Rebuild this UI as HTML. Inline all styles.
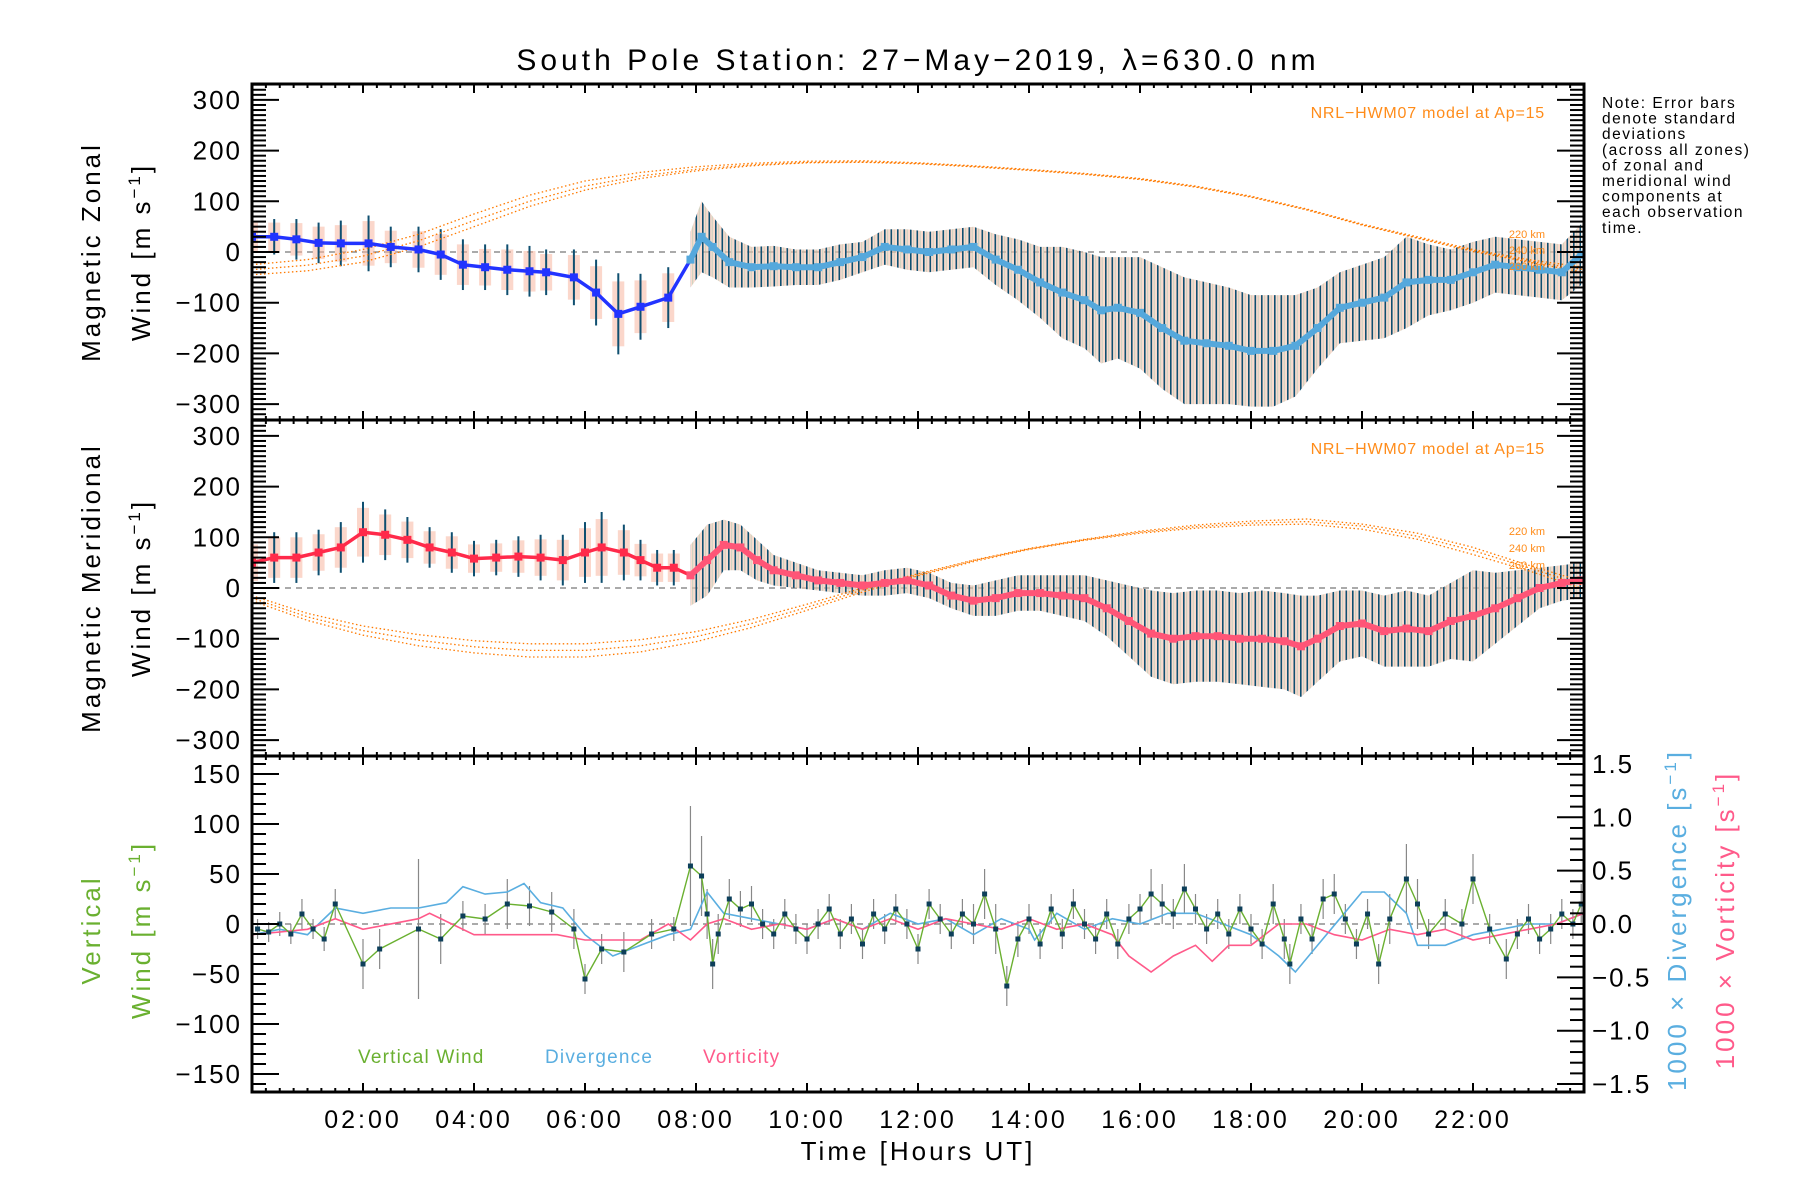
<!DOCTYPE html>
<html><head><meta charset="utf-8"><title>South Pole Station winds</title>
<style>
html,body{margin:0;padding:0;background:#fff;}
svg{display:block;font-family:"Liberation Sans",sans-serif;}
</style></head>
<body>
<svg id="chart" width="1800" height="1200" viewBox="0 0 1800 1200" xmlns="http://www.w3.org/2000/svg">
<defs>
<pattern id="bars" width="6.5" height="10" patternUnits="userSpaceOnUse">
<rect width="6.5" height="10" fill="#f7c3ad" fill-opacity="0.6"/>
<rect x="0" width="1.6" height="10" fill="#0f4f70"/>
<rect x="3.2" width="1" height="10" fill="#8fc8b0" fill-opacity="0.5"/>
</pattern>
<clipPath id="c1"><rect x="252" y="84" width="1332" height="336"/></clipPath>
<clipPath id="c2"><rect x="252" y="420" width="1332" height="336"/></clipPath>
<clipPath id="c3"><rect x="252" y="756" width="1332" height="336"/></clipPath>
</defs>
<text x="918" y="70" font-size="30" letter-spacing="4" text-anchor="middle">South Pole Station: 27−May−2019, λ=630.0 nm</text>
<g id="layer"></g>
<text font-size="15.5" letter-spacing="1.5" x="1602" y="108">
<tspan x="1602" dy="0">Note: Error bars</tspan><tspan x="1602" dy="15.6">denote standard</tspan><tspan x="1602" dy="15.6">deviations</tspan><tspan x="1602" dy="15.6">(across all zones)</tspan><tspan x="1602" dy="15.6">of zonal and</tspan><tspan x="1602" dy="15.6">meridional wind</tspan><tspan x="1602" dy="15.6">components at</tspan><tspan x="1602" dy="15.6">each observation</tspan><tspan x="1602" dy="15.6">time.</tspan></text>
<text x="1545" y="118" font-size="16" letter-spacing="0.8" fill="#ff8c1a" text-anchor="end">NRL−HWM07 model at Ap=15</text>
<text x="1545" y="454" font-size="16" letter-spacing="0.8" fill="#ff8c1a" text-anchor="end">NRL−HWM07 model at Ap=15</text>
<g font-size="11" fill="#ff8c1a" text-anchor="end"><text x="1545" y="238">220 km</text><text x="1545" y="254">240 km</text><text x="1545" y="270">260 km</text></g>
<g font-size="11" fill="#ff8c1a" text-anchor="end"><text x="1545" y="535">220 km</text><text x="1545" y="552">240 km</text><text x="1545" y="569">260 km</text></g>
<text transform="translate(100,252) rotate(-90)" font-size="26" text-anchor="middle" letter-spacing="3">Magnetic Zonal</text>
<text transform="translate(150,252) rotate(-90)" font-size="26" text-anchor="middle" letter-spacing="3">Wind [m s<tspan font-size="17" dy="-10">−1</tspan><tspan dy="10">]</tspan></text>
<text transform="translate(100,588) rotate(-90)" font-size="26" text-anchor="middle" letter-spacing="3">Magnetic Meridional</text>
<text transform="translate(150,588) rotate(-90)" font-size="26" text-anchor="middle" letter-spacing="3">Wind [m s<tspan font-size="17" dy="-10">−1</tspan><tspan dy="10">]</tspan></text>
<text transform="translate(100,930) rotate(-90)" font-size="26" text-anchor="middle" fill="#6ab030" letter-spacing="3">Vertical</text>
<text transform="translate(150,930) rotate(-90)" font-size="26" text-anchor="middle" fill="#6ab030" letter-spacing="3">Wind [m s<tspan font-size="17" dy="-10">−1</tspan><tspan dy="10">]</tspan></text>
<text transform="translate(1686,920) rotate(-90)" font-size="26" text-anchor="middle" fill="#5aaee0" letter-spacing="3">1000 × Divergence [s<tspan font-size="17" dy="-10">−1</tspan><tspan dy="10">]</tspan></text>
<text transform="translate(1734,920) rotate(-90)" font-size="26" text-anchor="middle" fill="#ff5a8a" letter-spacing="3">1000 × Vorticity [s<tspan font-size="17" dy="-10">−1</tspan><tspan dy="10">]</tspan></text>
<text x="918" y="1160" font-size="26" letter-spacing="3" text-anchor="middle">Time [Hours UT]</text>
<text x="358" y="1063" font-size="19" letter-spacing="1.2" fill="#6ab030">Vertical Wind</text>
<text x="545" y="1063" font-size="19" letter-spacing="1.2" fill="#5aaee0">Divergence</text>
<text x="703" y="1063" font-size="19" letter-spacing="1.2" fill="#ff5a8a">Vorticity</text>
</svg>
<script>
// ---- data ----
const zonT = [0.0,0.4,0.8,1.2,1.6,2.1,2.5,3.0,3.4,3.8,4.2,4.6,5.0,5.3,5.8,6.2,6.6,7.0,7.5,7.9,8.1,8.3,8.6,9.0,9.4,9.8,10.2,10.6,11.0,11.4,11.8,12.2,12.6,13.0,13.4,13.8,14.2,14.6,15.0,15.3,15.6,16.0,16.4,16.8,17.2,17.6,18.0,18.4,18.8,19.2,19.6,20.0,20.4,20.8,21.2,21.6,22.0,22.4,22.8,23.2,23.6,23.95];
const zonV = [30,30,25,18,17,17,10,5,-5,-25,-30,-35,-38,-40,-50,-80,-122,-108,-90,-15,30,10,-20,-30,-28,-30,-30,-20,-10,10,5,0,5,10,-15,-35,-60,-80,-95,-115,-110,-120,-150,-175,-180,-185,-195,-195,-185,-150,-110,-100,-90,-60,-55,-55,-40,-25,-30,-35,-40,-5];
const zonE = [35,35,40,40,45,55,40,45,50,50,45,50,50,45,55,65,80,65,60,55,70,60,50,40,40,35,35,35,30,35,40,40,40,40,50,60,70,90,95,105,100,110,120,125,120,115,110,110,100,80,70,75,80,90,70,60,60,55,55,55,55,60];
const merT = [0.0,0.4,0.8,1.2,1.6,2.0,2.4,2.8,3.2,3.6,4.0,4.4,4.8,5.2,5.6,6.0,6.3,6.7,7.0,7.3,7.6,7.9,8.2,8.5,8.8,9.1,9.4,9.8,10.2,10.6,11.0,11.4,11.8,12.2,12.6,13.0,13.4,13.8,14.2,14.6,15.0,15.4,15.8,16.2,16.6,17.0,17.4,17.8,18.2,18.6,18.9,19.2,19.6,20.0,20.4,20.8,21.2,21.6,22.0,22.4,22.8,23.2,23.6,23.95];
const merV = [50,60,60,70,80,110,105,95,80,70,58,60,62,60,55,70,80,70,55,40,40,25,55,85,80,55,35,25,15,10,5,10,15,5,-15,-25,-20,-10,-10,-15,-20,-40,-65,-90,-100,-95,-95,-100,-100,-105,-115,-100,-75,-70,-85,-80,-85,-65,-55,-40,-20,0,10,15];
const merE = [45,50,50,45,50,60,50,45,40,40,35,35,40,45,50,60,70,55,40,35,35,60,70,50,45,40,30,25,20,20,20,25,25,25,25,30,35,35,35,40,45,55,70,85,90,90,90,90,95,95,100,85,70,65,70,75,70,75,90,70,55,40,35,35];
const hwmT = [0,1,2,3,4,5,6,7,8,9,10,11,12,13,14,15,16,17,18,19,20,21,22,23,24];
const hwmZ220 = [-25,-15,5,35,75,112,140,157,168,175,179,180,176,170,163,155,145,130,110,85,55,30,5,-15,-30];
const hwmZ240 = [-35,-26,-8,22,62,100,130,150,163,172,177,178,175,169,162,154,144,129,109,84,54,28,3,-18,-35];
const hwmZ260 = [-45,-37,-20,10,50,90,122,145,160,170,176,177,174,168,161,153,143,128,108,83,53,27,1,-20,-40];
const hwmM220 = [-15,-50,-75,-92,-104,-110,-110,-102,-86,-62,-32,0,28,55,78,96,112,124,132,136,126,108,80,45,12];
const hwmM240 = [-20,-57,-84,-103,-116,-123,-123,-114,-96,-70,-38,-4,26,54,77,95,110,121,128,131,122,102,74,40,5];
const hwmM260 = [-25,-64,-93,-114,-128,-136,-136,-126,-106,-78,-44,-8,24,52,76,94,108,118,124,126,116,96,66,34,-2];
const vwT = [0.1,0.3,0.5,0.7,0.9,1.1,1.3,1.5,2.0,2.3,3.0,3.4,3.8,4.2,4.6,5.0,5.4,5.8,6.0,6.3,6.7,7.2,7.6,7.9,8.1,8.2,8.3,8.4,8.6,8.8,9.0,9.2,9.4,9.6,9.8,10.0,10.2,10.4,10.6,10.8,11.0,11.2,11.4,11.6,11.8,12.0,12.2,12.4,12.6,12.8,13.0,13.2,13.4,13.6,13.8,14.0,14.2,14.4,14.6,14.8,15.0,15.2,15.4,15.6,15.8,16.0,16.2,16.4,16.6,16.8,17.0,17.2,17.4,17.6,17.8,18.0,18.2,18.4,18.6,18.7,18.9,19.1,19.3,19.5,19.7,19.9,20.1,20.3,20.5,20.8,21.0,21.2,21.5,21.8,22.0,22.3,22.6,22.8,23.0,23.2,23.4,23.6,23.8,23.95];
const vwV = [-5,-8,0,-10,10,-5,-15,20,-40,-25,-5,-15,8,5,20,18,12,-5,-55,-25,-28,-10,-5,58,48,10,-40,-10,25,15,20,0,-10,10,-5,-15,0,15,-10,5,-20,10,-5,15,0,-25,20,5,-10,10,0,30,-5,-62,-15,5,-20,15,-10,20,0,-15,10,-20,5,15,30,20,10,35,15,-5,10,-10,15,-5,-20,20,-15,-40,5,-15,25,30,5,-20,10,-40,5,45,20,-10,10,0,45,-5,-35,-10,5,-15,-5,10,0,20];
const vwE = [10,10,12,10,15,10,12,15,25,20,70,25,15,15,25,20,20,20,15,15,20,15,12,60,40,25,25,20,20,18,18,15,15,15,15,15,15,15,15,15,15,15,15,15,15,15,15,15,15,15,20,25,25,20,18,15,15,15,15,15,15,15,15,15,15,15,25,20,15,25,15,15,15,15,15,15,15,20,20,20,15,15,20,20,15,15,15,20,25,35,25,15,15,15,25,15,20,15,15,15,15,15,15,20];
const divT = [0,0.5,1,1.5,2,2.5,3,3.5,3.8,4.2,4.6,4.9,5.2,5.6,6.0,6.5,7.0,7.5,7.9,8.2,8.5,9.0,9.5,10.0,10.5,11.0,11.5,12.0,12.5,13.0,13.5,14.0,14.1,14.5,15.0,15.5,16.0,16.5,17.0,17.5,18.0,18.5,18.8,19.2,19.6,20.0,20.4,20.8,21.0,21.5,22.0,22.5,23.0,23.5,24.0];
const divV = [-0.1,-0.05,-0.1,0.15,0.1,0.15,0.15,0.2,0.35,0.28,0.3,0.38,0.2,0.15,-0.1,-0.3,-0.2,-0.1,-0.05,0.3,0.1,0.05,0.0,-0.05,0.05,-0.05,0.1,0.0,0.05,-0.1,0.05,-0.05,-0.15,0.1,-0.05,0.05,0.0,0.1,0.1,0.0,-0.1,-0.3,-0.45,-0.2,0.05,0.3,0.3,0.1,-0.2,-0.2,-0.1,-0.05,0.0,0.0,0.1];
const vorT = [0,1,1.5,2,3,3.2,3.6,4,4.5,5,5.5,6,6.5,7,7.5,7.9,8.2,8.5,9,9.5,10,10.5,11,11.5,12,12.5,13,13.5,14,14.5,15,15.5,15.8,16.2,16.6,17,17.3,17.6,18,18.5,19,19.5,20,20.5,21,21.5,22,22.5,23,23.5,24];
const vorV = [-0.1,-0.05,0.05,-0.05,0.05,0.1,0.0,-0.1,-0.1,-0.1,-0.1,-0.15,-0.15,-0.15,0.0,-0.15,0.0,0.05,-0.05,0.0,-0.05,0.05,-0.05,0.05,-0.05,0.05,0.0,-0.05,0.05,-0.05,0.0,-0.1,-0.3,-0.45,-0.3,-0.2,-0.35,-0.2,-0.2,0.0,0.0,-0.1,-0.15,-0.05,-0.1,-0.05,-0.15,-0.1,-0.05,0.0,0.1];
const yTicks12 = [-300,-200,-100,0,100,200,300];
const yTicks3 = [-150,-100,-50,0,50,100,150];
const rTicks3 = [-1.5,-1.0,-0.5,0.0,0.5,1.0,1.5];
const xTickLabels = ["02:00","04:00","06:00","08:00","10:00","12:00","14:00","16:00","18:00","20:00","22:00"];
const xTickHours = [2,4,6,8,10,12,14,16,18,20,22];

// ---- scales ----
const L=252,R=1584;
const X=h=>L+h*(R-L)/24;
const Y1=v=>252-v*0.507, Y2=v=>588-v*0.507, Y3=v=>924-v*1.0, Y3r=d=>924-d*106.7;
const NS="http://www.w3.org/2000/svg";
const layer=document.getElementById('layer');
function mk(tag,attrs,parent){const e=document.createElementNS(NS,tag);for(const k in attrs)e.setAttribute(k,attrs[k]);(parent||layer).appendChild(e);return e;}
function grp(name,clip){const g=document.createElementNS(NS,'g');


if(clip)g.setAttribute('clip-path','url(#'+clip+')');layer.appendChild(g);return g;}
function pts(T,V,Yf){return T.map((t,i)=>X(t).toFixed(1)+','+Yf(V[i]).toFixed(1)).join(' ');}

function windPanel(T,V,E,Yf,clip,name,early,late,hwms){
  const g=grp(name+'-data',clip);
  const z=mk('line',{x1:L,x2:R,y1:Yf(0),y2:Yf(0),stroke:'#777','stroke-width':1.2,'stroke-dasharray':'6,5'},g);
  
  
  const idx=T.map((t,i)=>i).filter(i=>T[i]>=7.9);
  const up=idx.map(i=>X(T[i]).toFixed(1)+','+Yf(V[i]+E[i]).toFixed(1));
  const lo=idx.slice().reverse().map(i=>X(T[i]).toFixed(1)+','+Yf(V[i]-E[i]).toFixed(1));
  const band=mk('polygon',{points:up.concat(lo).join(' '),fill:'url(#bars)'},g);
  
  
  T.forEach((t,i)=>{ if(t<7.9){
    const bg=mk('rect',{x:X(t)-6,y:Yf(V[i]+E[i]*0.8),width:12,height:Math.abs(Yf(V[i]-E[i]*0.8)-Yf(V[i]+E[i]*0.8)),fill:'#f7b7a0','fill-opacity':0.55},g);
    
    
    const b=mk('line',{x1:X(t),x2:X(t),y1:Yf(V[i]+E[i]),y2:Yf(V[i]-E[i]),stroke:'#0f4f70','stroke-width':2},g);
    
    
  }});
  hwms.forEach((H,k)=>{
    const c=mk('polyline',{points:pts(hwmT,H,Yf),fill:'none',stroke:'#ff7a00','stroke-width':1.3,'stroke-dasharray':'1.5,2.5'},g);
    
    
  });
  const iE=T.map((t,i)=>i).filter(i=>T[i]<=8.1);
  const iL=T.map((t,i)=>i).filter(i=>T[i]>=7.9);
  const l1=mk('polyline',{points:iE.map(i=>X(T[i]).toFixed(1)+','+Yf(V[i]).toFixed(1)).join(' '),fill:'none',stroke:early,'stroke-width':3.5},g);
  
  
  const l2=mk('polyline',{points:iL.map(i=>X(T[i]).toFixed(1)+','+Yf(V[i]).toFixed(1)).join(' '),fill:'none',stroke:late,'stroke-width':6,'stroke-linejoin':'round'},g);
  
  
  T.forEach((t,i)=>{
    const d=mk('rect',{x:X(t)-4,y:Yf(V[i])-4,width:8,height:8,fill:t<7.9?early:late},g);
    
    
  });
}
windPanel(zonT,zonV,zonE,Y1,'c1','zonal','#2233ff','#55a8dc',[hwmZ220,hwmZ240,hwmZ260]);
windPanel(merT,merV,merE,Y2,'c2','meridional','#ff2a4a','#ff5577',[hwmM220,hwmM240,hwmM260]);

(function(){
  const g=grp('vertical-panel-data','c3');
  const z=mk('line',{x1:L,x2:R,y1:Y3(0),y2:Y3(0),stroke:'#777','stroke-width':1.2,'stroke-dasharray':'6,5'},g);
  
  
  vwT.forEach((t,i)=>{
    const b=mk('line',{x1:X(t),x2:X(t),y1:Y3(vwV[i]+vwE[i]),y2:Y3(vwV[i]-vwE[i]),stroke:'#888','stroke-width':1.2},g);
    
    
  });
  const dv=mk('polyline',{points:pts(divT,divV,Y3r),fill:'none',stroke:'#5aaee0','stroke-width':1.6},g);
  
  
  const vo=mk('polyline',{points:pts(vorT,vorV,Y3r),fill:'none',stroke:'#ff5a8a','stroke-width':1.6},g);
  
  
  const vw=mk('polyline',{points:pts(vwT,vwV,Y3),fill:'none',stroke:'#6ab030','stroke-width':1.4},g);
  
  
  vwT.forEach((t,i)=>{
    const d=mk('rect',{x:X(t)-2.5,y:Y3(vwV[i])-2.5,width:5,height:5,fill:'#0d3f5a'},g);
    
    
  });
})();

const ax=grp('axes',null);
function frame(y0,y1,name){const r=mk('rect',{x:L,y:y0,width:R-L,height:y1-y0,fill:'none',stroke:'#000','stroke-width':3},ax);

}
frame(84,420,'zonal-frame');frame(420,756,'meridional-frame');frame(756,1092,'vertical-frame');
function yAxis(Yf,min,max,major,minor,labels,fmt,side,name){
  for(let v=min;v<=max+1e-9;v+=minor){
    const y=Yf(v);
    const isMaj=Math.abs(v/major-Math.round(v/major))<1e-6;
    const len=isMaj?27:14;
    if(side!=='r'){mk('line',{x1:L,x2:L+len,y1:y,y2:y,stroke:'#000','stroke-width':2},ax);}
    if(side!=='l'){mk('line',{x1:R,x2:R-len,y1:y,y2:y,stroke:'#000','stroke-width':2},ax);}
  }
  labels.forEach(v=>{
    const t=mk('text',{x:side==='r'?R+8:L-10,y:Yf(v)+9,'font-size':26,'letter-spacing':2,'text-anchor':side==='r'?'start':'end'},ax);
    
    
    t.textContent=fmt(v);
  });
}
const f0=v=>(v<0?'−':'')+Math.abs(v);
yAxis(Y1,-330,330,100,10,yTicks12,f0,'b','zonal-y');
yAxis(Y2,-330,330,100,10,yTicks12,f0,'b','meridional-y');
yAxis(Y3,-160,160,50,10,yTicks3,f0,'l','vertical-y');
yAxis(Y3r,-1.5,1.5,0.5,0.1,rTicks3,v=>(v<0?'−':'')+Math.abs(v).toFixed(1),'r','divergence-y');
[84,420,756,1092].forEach((yb,k)=>{
  for(let h=0.25;h<24;h+=0.25){
    const maj=Math.abs(h%2)<1e-6;
    const len=maj?9:4;
    if(k>0) mk('line',{x1:X(h),x2:X(h),y1:yb,y2:yb-len,stroke:'#000','stroke-width':2},ax);
    if(k<3) mk('line',{x1:X(h),x2:X(h),y1:yb,y2:yb+len,stroke:'#000','stroke-width':2},ax);
  }
});
xTickHours.forEach((h,i)=>{
  const t=mk('text',{x:X(h),y:1128,'font-size':25,'letter-spacing':3,'text-anchor':'middle'},ax);
  
  
  t.textContent=xTickLabels[i];
});
</script>
</body></html>
